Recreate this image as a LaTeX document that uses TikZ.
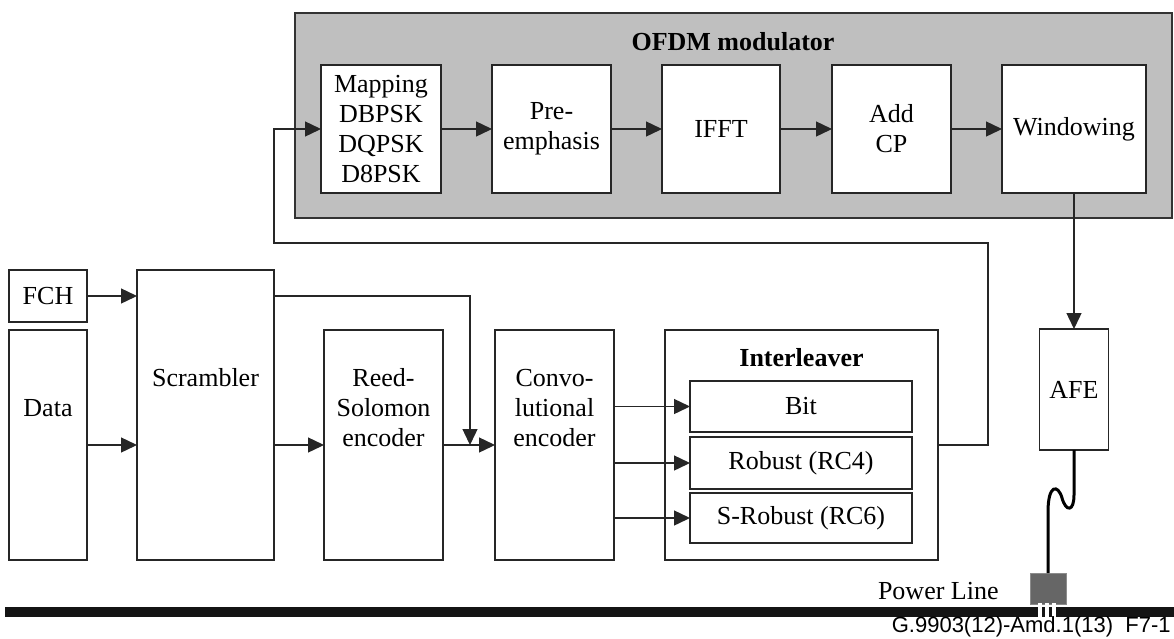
\documentclass[tikz,border=0pt]{standalone}
\usepackage{fontspec}
\setmainfont{Liberation Serif}
\newfontfamily\footfont{Liberation Sans}
\usetikzlibrary{arrows.meta}

\begin{document}
\begin{tikzpicture}[x=0.5pt,y=-0.5pt,
  blk/.style={draw=black!85, line width=0.8pt, fill=white, inner sep=0pt, outer sep=0pt, align=center, font=\fontsize{13}{15}\selectfont},
  txt/.style={inner sep=0pt, align=center, font=\fontsize{13}{15}\selectfont},
  arr/.style={draw=black!85, line width=0.7pt, -{Triangle[length=8pt,width=7.5pt]}},
  wire/.style={draw=black!85, line width=0.7pt}]
\useasboundingbox (0,0) rectangle (1174,638);
\node[blk, fill=black!25, draw=black!80, minimum width=438.5pt, minimum height=102.5pt] (ofdm) at (733.5,115.5){};
\node[txt, font=\fontsize{13}{15}\selectfont\bfseries] (ofdmtxt) at (733,42){OFDM modulator};
\node[blk, minimum width=60pt, minimum height=64pt] (map) at (381,129){Mapping\\DBPSK\\DQPSK\\D8PSK};
\node[blk, minimum width=59.5pt, minimum height=64pt] (pre) at (551.5,129){Pre-\\emphasis};
\node[blk, minimum width=59pt, minimum height=64pt] (ifft) at (721,129){IFFT};
\node[blk, minimum width=59.5pt, minimum height=64pt] (addcp) at (891.5,129){Add\\CP};
\node[blk, minimum width=72pt, minimum height=64pt] (win) at (1074,129){Windowing};
\draw[arr](map) -- (pre);
\draw[arr](pre) -- (ifft);
\draw[arr](ifft) -- (addcp);
\draw[arr](addcp) -- (win);
\node[blk, minimum width=39pt, minimum height=26pt] (fch) at (48,296){FCH};
\node[blk, minimum width=39pt, minimum height=115pt] (data) at (48,445){};
\node[txt] (datatxt) at (48,408){Data};
\node[blk, minimum width=68.5pt, minimum height=145pt] (scr) at (205.5,415){};
\node[txt] (scrtxt) at (205.5,378){Scrambler};
\node[blk, minimum width=59.5pt, minimum height=115pt] (rs) at (383.5,445){};
\node[txt] (rstxt) at (383.5,408){Reed-\\Solomon\\encoder};
\node[blk, minimum width=59.5pt, minimum height=115pt] (conv) at (554.5,445){};
\node[txt] (convtxt) at (554.5,408){Convo-\\lutional\\encoder};
\node[blk, minimum width=136.5pt, minimum height=115pt] (intl) at (801.5,445){};
\node[txt, font=\fontsize{13}{15}\selectfont\bfseries] (intltxt) at (801.5,358){Interleaver};
\node[blk, minimum width=111pt, minimum height=25.5pt] (bit) at (801,406.5){Bit};
\node[blk, minimum width=111pt, minimum height=26pt] (rob) at (801,463){Robust (RC4)};
\node[blk, minimum width=111pt, minimum height=25pt] (srob) at (801,518){S-Robust (RC6)};
\node[blk, minimum width=34.5pt, minimum height=60.5pt] (afe) at (1074,389.5){AFE};
\coordinate (jn) at (470,445);
\draw[arr](fch) -- (fch -| scr.west);
\draw[arr](data) -- (data -| scr.west);
\draw[arr](scr.east |- rs.west) -- (rs.west);
\draw[arr](rs) -- (conv);
\draw[arr](scr.east |- fch.east) -| (jn);
\draw[arr](bit.west -| conv.east) -- (bit.west);
\draw[arr](rob.west -| conv.east) -- (rob.west);
\draw[arr](srob.west -| conv.east) -- (srob.west);
\draw[arr](intl.east) -| (988,243) -| (274,129) -- (map.west);
\draw[arr](win) -- (afe);
\fill[black!92] (5,607) rectangle (1174,617);
\node[blk, fill=black!60, draw=black!45, line width=0.5pt, minimum width=18pt, minimum height=15.5pt] (plug) at (1048,588.5){};
\foreach \tx in {1038,1045,1052}
  \fill[white] (\tx,603) rectangle ++(4,14);
\draw[line width=1.5pt, black] (afe.south) -- (1074,495) .. controls (1074,512) and (1066,512) .. (1062,498) .. controls (1058,484) and (1048,484) .. (1048,512) -- (plug.north);
\node[txt, anchor=base east] (pwr) at (999,599){Power Line};
\node[inner sep=0pt, anchor=base east, font=\footfont\fontsize{11}{13}\selectfont] (foot) at (1171,632){G.9903(12)-Amd.1(13)\ \ F7-1};
\end{tikzpicture}
\end{document}
